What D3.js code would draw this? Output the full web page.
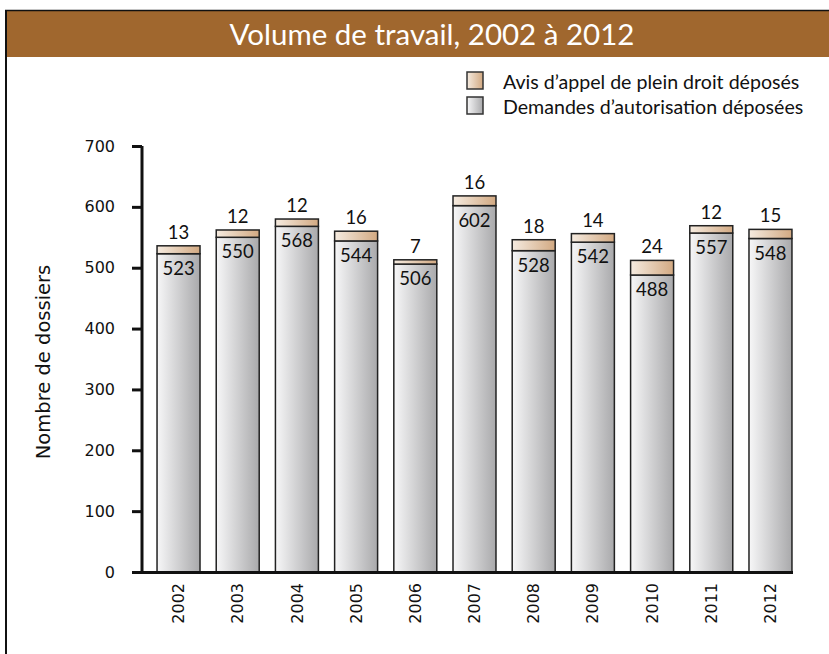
<!DOCTYPE html>
<html><head><meta charset="utf-8">
<script src="https://cdn.jsdelivr.net/npm/d3@7"></script>
<style>body{margin:0;background:#fff}svg{display:block}</style>
</head><body><svg id="c" width="829" height="654"></svg>
<script>
const years = ["2002","2003","2004","2005","2006","2007","2008","2009","2010","2011","2012"];
const demandes = [523,550,568,544,506,602,528,542,488,557,548];
const avis = [13,12,12,16,7,16,18,14,24,12,15];
const yTicks = [0,100,200,300,400,500,600,700];
const title = "Volume de travail, 2002 à 2012";
const legendLabels = ["Avis d’appel de plein droit déposés","Demandes d’autorisation déposées"];
const yTitle = "Nombre de dossiers";

const svg = d3.select("#c");
const defs = svg.append("defs");
function grad(id, c1, c2){
  const g = defs.append("linearGradient").attr("id",id).attr("x1","0%").attr("x2","100%").attr("y1","0%").attr("y2","0%");
  g.append("stop").attr("offset","0%").attr("stop-color",c1);
  g.append("stop").attr("offset","100%").attr("stop-color",c2);
}
grad("gGrey","#f7f7f8","#a9a9ab");
grad("gTan","#f5ebe0","#d2a982");

// frame
svg.append("rect").attr("x",6).attr("y",11).attr("width",823).attr("height",46).attr("fill","#a0672e");
svg.append("line").attr("x1",5).attr("x2",829).attr("y1",10.5).attr("y2",10.5).attr("stroke","#111").attr("stroke-width",1.5);
svg.append("line").attr("x1",6).attr("x2",6).attr("y1",10).attr("y2",654).attr("stroke","#111").attr("stroke-width",2);
svg.append("text").attr("x",432).attr("y",45).attr("text-anchor","middle").attr("fill","#fff")
  .attr("font-family","Lato, sans-serif").attr("font-size",29.5).text(title);

const y = d3.scaleLinear().domain([0,700]).range([572,146]);
const x = d3.scaleBand().domain(years).range([145.2,803.8]).paddingInner(0.274).paddingOuter(0.2);

// bars
const g = svg.append("g");
years.forEach((yr,i)=>{
  const x0 = x(yr), w = x.bandwidth();
  const d = demandes[i], a = avis[i];
  g.append("rect").attr("x",x0).attr("y",y(d)).attr("width",w).attr("height",y(0)-y(d))
    .attr("fill","url(#gGrey)").attr("stroke","#222").attr("stroke-width",1.5);
  g.append("rect").attr("x",x0).attr("y",y(d+a)).attr("width",w).attr("height",y(d)-y(d+a))
    .attr("fill","url(#gTan)").attr("stroke","#222").attr("stroke-width",1.5);
  g.append("text").attr("x",x0+w/2).attr("y",y(d)+21).attr("text-anchor","middle")
    .attr("font-family","Lato, sans-serif").attr("font-size",18.5).attr("fill","#111").text(d);
  g.append("text").attr("x",x0+w/2).attr("y",y(d+a)-7).attr("text-anchor","middle")
    .attr("font-family","Lato, sans-serif").attr("font-size",18.5).attr("fill","#111").text(a);
});

// y axis
const ya = svg.append("g").attr("transform","translate(142,0)")
  .call(d3.axisLeft(y).tickValues(yTicks).tickSize(10).tickPadding(17));
ya.select(".domain").attr("stroke","#111").attr("stroke-width",3).attr("d","M0,146V573");
ya.selectAll(".tick line").attr("stroke","#111").attr("stroke-width",3);
ya.selectAll(".tick text").attr("font-family","DejaVu Sans, sans-serif").attr("font-size",16).attr("fill","#111");

// x axis
svg.append("line").attr("x1",141).attr("x2",793).attr("y1",572.5).attr("y2",572.5).attr("stroke","#111").attr("stroke-width",3);
const xa = svg.append("g").attr("transform","translate(0,572)").call(d3.axisBottom(x).tickSize(0));
xa.select(".domain").remove();
xa.selectAll(".tick text").attr("font-family","DejaVu Sans, sans-serif").attr("font-size",16).attr("fill","#111")
  .attr("transform","rotate(-90)").attr("text-anchor","end").attr("x",-11).attr("y",0).attr("dy","0.35em");

svg.append("text").attr("transform","translate(50,362) rotate(-90)").attr("text-anchor","middle")
  .attr("font-family","DejaVu Sans, sans-serif").attr("font-size",19.5).attr("fill","#111").text(yTitle);

// legend
const lg = svg.append("g");
["gTan","gGrey"].forEach((gid,i)=>{
  lg.append("rect").attr("x",467).attr("y",72+i*25).attr("width",16).attr("height",17)
    .attr("fill",`url(#${gid})`).attr("stroke","#333").attr("stroke-width",1.5);
  lg.append("text").attr("x",503).attr("y",89+i*25).attr("font-family","Lato, sans-serif").attr("font-size",19.6)
    .attr("fill","#111").text(legendLabels[i]);
});
</script></body></html>
